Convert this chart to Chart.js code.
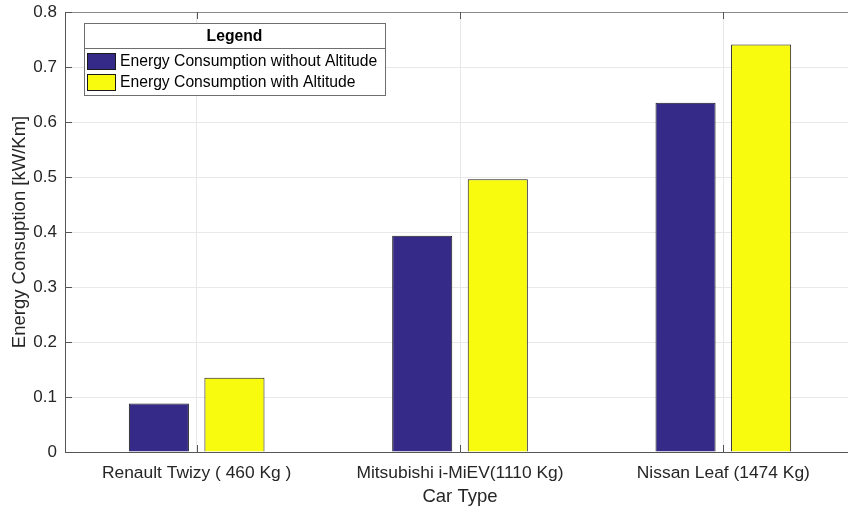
<!DOCTYPE html>
<html>
<head>
<meta charset="utf-8">
<script src="https://cdn.jsdelivr.net/npm/chart.js@4/dist/chart.umd.min.js"></script>
<style>
  html, body { margin: 0; padding: 0; background: #fff; overflow: hidden; }
  #wrap { width: 848px; height: 513px; overflow: hidden; }
</style>
</head>
<body>
<div id="wrap"><canvas id="myChart" width="855" height="513"></canvas></div>
<script>
const carTypes = ['Renault Twizy ( 460 Kg )', 'Mitsubishi i-MiEV(1110 Kg)', 'Nissan Leaf (1474 Kg)'];
const withoutAltitude = [0.088, 0.393, 0.635];
const withAltitude = [0.135, 0.496, 0.741];
const yTicks = [0, 0.1, 0.2, 0.3, 0.4, 0.5, 0.6, 0.7, 0.8];

const FONT = 'Liberation Sans, Arial, Helvetica, sans-serif';
const TEXT = '#262626';

// MATLAB style box: top border, inward ticks, framed legend with title
const matlabBox = {
  id: 'matlabBox',
  afterDraw(chart) {
    const { ctx, chartArea: a, scales } = chart;
    ctx.save();
    ctx.strokeStyle = '#8a8a8a';
    ctx.lineWidth = 1;
    ctx.beginPath();
    ctx.moveTo(a.left, a.top + 0.5);
    ctx.lineTo(a.right, a.top + 0.5);
    ctx.moveTo(a.right - 0.5, a.top);
    ctx.lineTo(a.right - 0.5, a.bottom);
    ctx.stroke();

    // inward tick marks
    ctx.strokeStyle = '#555';
    ctx.beginPath();
    yTicks.forEach(v => {
      const y = Math.round(scales.y.getPixelForValue(v)) + 0.5;
      ctx.moveTo(a.left, y); ctx.lineTo(a.left + 7, y);
      ctx.moveTo(a.right, y); ctx.lineTo(a.right - 7, y);
    });
    carTypes.forEach((c, i) => {
      const x = Math.round(scales.x.getPixelForValue(i)) + 0.5;
      ctx.moveTo(x, a.bottom); ctx.lineTo(x, a.bottom - 7);
      ctx.moveTo(x, a.top); ctx.lineTo(x, a.top + 7);
    });
    ctx.stroke();

    // legend
    const lx = a.left + 19, ly = a.top + 11, lw = 301, lh = 72;
    ctx.fillStyle = '#fff';
    ctx.fillRect(lx, ly, lw, lh);
    ctx.strokeStyle = '#6e6e6e';
    ctx.strokeRect(lx + 0.5, ly + 0.5, lw, lh);
    ctx.beginPath();
    ctx.moveTo(lx, ly + 25.5);
    ctx.lineTo(lx + lw, ly + 25.5);
    ctx.stroke();

    ctx.fillStyle = '#000';
    ctx.textAlign = 'center';
    ctx.textBaseline = 'middle';
    ctx.font = 'bold 15.7px ' + FONT;
    ctx.fillText('Legend', lx + lw / 2, ly + 14);

    ctx.textAlign = 'left';
    ctx.font = '15.7px ' + FONT;
    chart.data.datasets.forEach((ds, i) => {
      const sy = ly + 30 + i * 21;
      ctx.fillStyle = ds.backgroundColor;
      ctx.fillRect(lx + 3, sy, 29, 17);
      ctx.strokeStyle = '#1a1a1a';
      ctx.strokeRect(lx + 3.5, sy + 0.5, 28, 16);
      ctx.fillStyle = '#000';
      ctx.fillText(ds.label, lx + 36, sy + 9);
    });
    ctx.restore();
  }
};

const data = {
  labels: carTypes,
  datasets: [
    {
      label: 'Energy Consumption without Altitude',
      data: withoutAltitude,
      backgroundColor: '#352a87',
      borderColor: '#1a1a1a',
      borderWidth: 1,
      categoryPercentage: 0.574,
      barPercentage: 0.795,
    },
    {
      label: 'Energy Consumption with Altitude',
      data: withAltitude,
      backgroundColor: '#f9fb0e',
      borderColor: '#1a1a1a',
      borderWidth: 1,
      categoryPercentage: 0.574,
      barPercentage: 0.795,
    },
  ],
};

const config = {
  type: 'bar',
  data: data,
  plugins: [matlabBox],
  options: {
    responsive: false,
    animation: false,
    layout: { padding: { top: 12, right: 0, left: 0, bottom: 0 } },
    plugins: {
      legend: { display: false },
      tooltip: { enabled: false },
    },
    scales: {
      x: {
        afterFit(scale) {
          scale.height = 61;
          scale.paddingLeft = 0;
          scale.paddingRight = 0;
        },
        grid: { offset: false, color: '#e8e8e8', drawTicks: false },
        border: { color: '#555' },
        ticks: { color: TEXT, font: { family: FONT, size: 17.4 }, padding: 11, maxRotation: 0 },
        title: {
          display: true, text: 'Car Type', color: TEXT,
          font: { family: FONT, size: 18.5 }, padding: { top: 0, bottom: 5 },
        },
      },
      y: {
        min: 0,
        max: 0.8,
        afterFit(scale) {
          scale.width = 65;
          scale.paddingTop = 0;
          scale.paddingBottom = 0;
        },
        afterBuildTicks(scale) { scale.ticks = yTicks.map(v => ({ value: v })); },
        grid: { color: '#e8e8e8', drawTicks: false },
        border: { color: '#555' },
        ticks: {
          color: TEXT, font: { family: FONT, size: 17 }, padding: 8,
          callback: v => (v === 0 ? '0' : v.toFixed(1)),
        },
        title: {
          display: true, text: 'Energy Consuption [kW/Km]', color: TEXT,
          font: { family: FONT, size: 18.5 }, padding: { top: 9, bottom: 0 },
        },
      },
    },
  },
};

new Chart(document.getElementById('myChart'), config);
</script>
</body>
</html>
